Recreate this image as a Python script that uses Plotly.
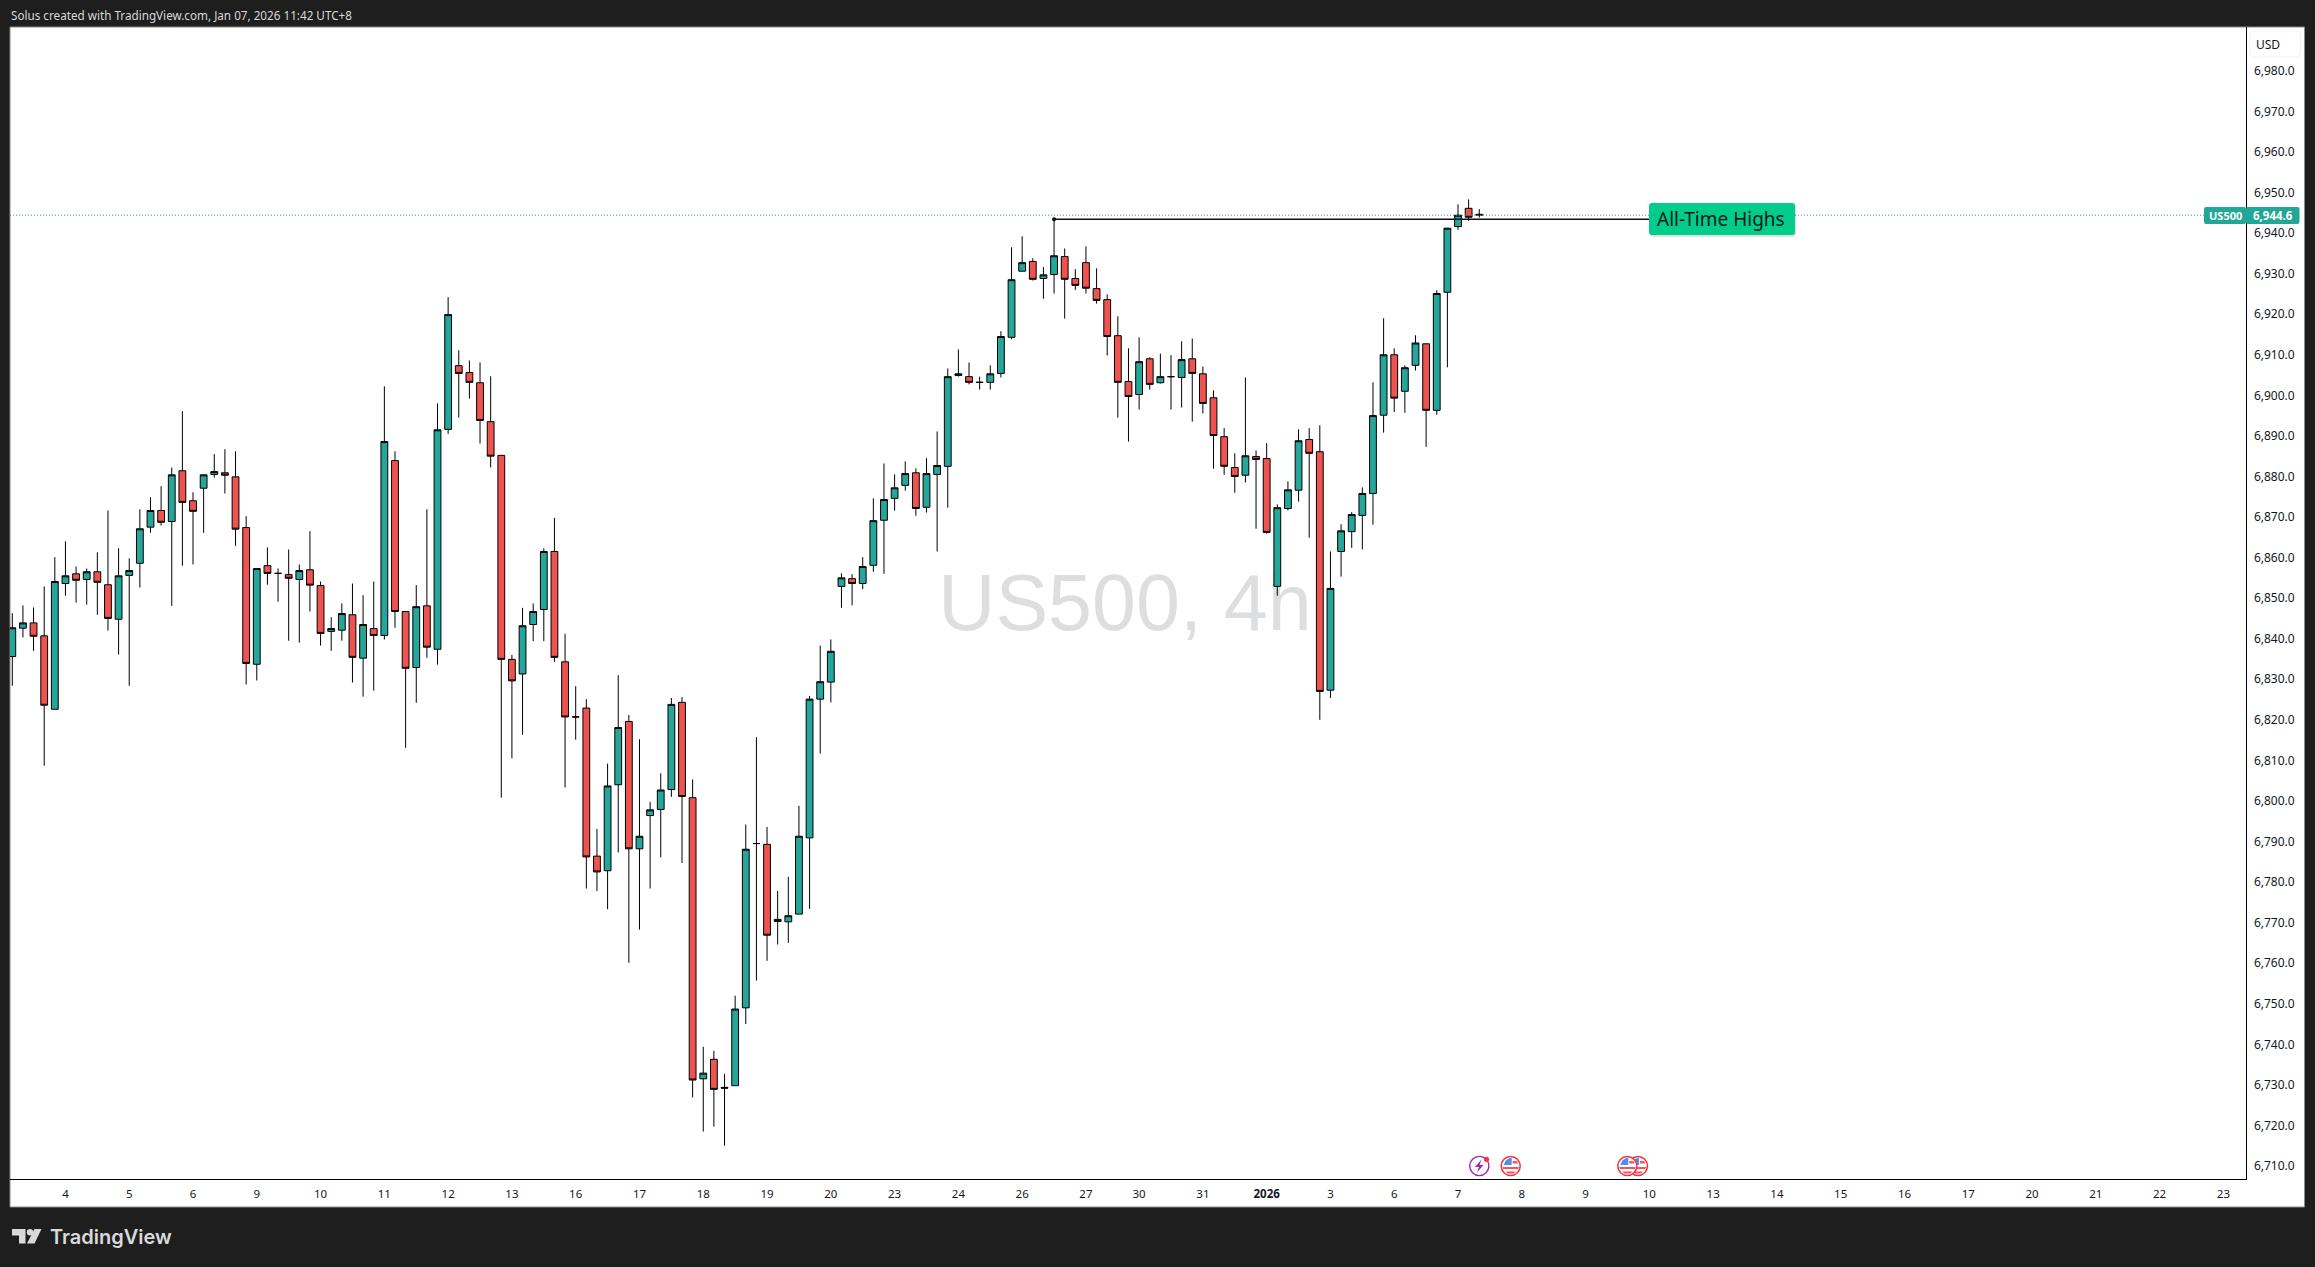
import plotly.graph_objects as go

W, H = 2315, 1267

opens = [
    6835.6, 6842.6, 6843.9, 6840.7, 6822.6, 6853.6, 6856.0, 6854.6, 6856.5, 6853.3,
    6844.8, 6855.6, 6858.6, 6867.5, 6871.6, 6868.9, 6881.4, 6874.0, 6877.1, 6880.5,
    6880.9, 6879.9, 6867.4, 6833.7, 6858.0, 6856.1, 6855.8, 6854.6, 6857.0, 6853.1,
    6841.8, 6842.1, 6845.9, 6835.2, 6842.5, 6840.8, 6883.9, 6846.7, 6832.9, 6848.1,
    6837.4, 6891.6, 6907.3, 6905.6, 6903.1, 6893.5, 6885.2, 6834.9, 6831.3, 6843.5,
    6847.2, 6861.5, 6834.3, 6820.7, 6822.9, 6786.4, 6782.8, 6804.0, 6819.6, 6788.2,
    6796.4, 6797.9, 6802.8, 6824.3, 6800.8, 6731.5, 6736.3, 6729.4, 6729.8, 6749.0,
    6789.5, 6789.3, 6770.3, 6770.2, 6772.1, 6790.9, 6825.1, 6829.3, 6852.9, 6854.8,
    6853.6, 6858.1, 6869.2, 6874.6, 6877.8, 6880.9, 6872.4, 6880.5, 6882.5, 6904.9,
    6904.6, 6903.2, 6903.2, 6905.4, 6914.3, 6930.6, 6933.0, 6928.8, 6929.8, 6934.2,
    6928.8, 6932.7, 6926.3, 6923.6, 6914.7, 6903.4, 6900.2, 6909.0, 6903.1, 6904.6,
    6904.4, 6909.0, 6905.3, 6899.4, 6889.8, 6882.2, 6880.3, 6884.9, 6884.4, 6852.9,
    6872.1, 6876.6, 6889.1, 6886.1, 6827.3, 6861.5, 6866.4, 6870.4, 6875.8, 6895.1,
    6910.0, 6901.0, 6907.4, 6912.7, 6896.3, 6925.4, 6941.6, 6946.1, 6944.4,
]
highs = [
    6846.3, 6848.2, 6847.7, 6852.9, 6860.1, 6864.0, 6857.8, 6857.3, 6861.3, 6871.6,
    6862.3, 6859.8, 6871.9, 6874.9, 6877.6, 6882.2, 6896.1, 6876.1, 6880.4, 6885.5,
    6886.7, 6886.2, 6870.2, 6857.3, 6862.5, 6857.3, 6862.0, 6858.3, 6866.5, 6854.1,
    6845.3, 6848.7, 6853.6, 6850.7, 6854.1, 6902.2, 6886.2, 6846.7, 6853.2, 6871.9,
    6898.0, 6924.2, 6911.1, 6908.6, 6908.1, 6904.7, 6885.2, 6836.0, 6847.6, 6848.7,
    6862.3, 6869.8, 6841.2, 6828.3, 6825.1, 6793.1, 6809.2, 6831.0, 6821.2, 6815.2,
    6799.8, 6806.8, 6825.4, 6825.6, 6805.3, 6739.4, 6738.4, 6732.7, 6752.0, 6794.2,
    6815.7, 6793.6, 6777.8, 6781.3, 6798.8, 6825.9, 6838.3, 6839.8, 6856.1, 6855.9,
    6860.1, 6874.6, 6883.2, 6880.5, 6883.7, 6882.0, 6884.5, 6891.1, 6906.6, 6911.3,
    6908.1, 6904.6, 6907.4, 6915.8, 6936.5, 6939.2, 6933.8, 6931.6, 6943.5, 6936.2,
    6931.1, 6936.7, 6931.3, 6924.9, 6919.5, 6911.6, 6914.3, 6909.4, 6910.3, 6909.9,
    6913.3, 6914.0, 6907.1, 6901.2, 6891.9, 6885.7, 6904.4, 6886.4, 6888.2, 6873.1,
    6878.8, 6891.6, 6891.9, 6892.6, 6861.5, 6868.2, 6871.2, 6877.3, 6903.2, 6919.0,
    6911.6, 6907.4, 6914.8, 6912.7, 6925.9, 6941.3, 6947.1, 6948.3, 6945.9,
]
lows = [
    6828.4, 6840.3, 6837.0, 6808.7, 6822.6, 6850.6, 6848.9, 6848.4, 6845.9, 6842.0,
    6836.1, 6828.4, 6852.6, 6866.1, 6867.9, 6848.1, 6858.0, 6858.3, 6866.1, 6879.7,
    6875.8, 6862.9, 6828.7, 6829.7, 6853.3, 6849.1, 6839.5, 6839.0, 6846.7, 6838.3,
    6837.0, 6839.5, 6829.2, 6825.7, 6827.2, 6839.8, 6842.7, 6813.1, 6824.2, 6835.3,
    6833.6, 6890.5, 6894.5, 6899.2, 6888.1, 6882.2, 6800.8, 6810.5, 6816.3, 6839.4,
    6839.4, 6834.3, 6803.3, 6815.1, 6778.4, 6777.8, 6773.3, 6787.3, 6760.1, 6768.3,
    6778.4, 6786.1, 6801.0, 6784.7, 6726.9, 6718.5, 6719.7, 6715.0, 6729.8, 6745.0,
    6755.7, 6760.6, 6764.6, 6765.0, 6772.1, 6773.4, 6811.7, 6824.3, 6847.6, 6848.2,
    6852.2, 6856.5, 6856.0, 6871.6, 6876.5, 6870.3, 6871.1, 6861.5, 6872.3, 6904.6,
    6902.7, 6901.4, 6901.4, 6904.4, 6913.8, 6930.6, 6928.3, 6923.8, 6925.1, 6918.9,
    6926.0, 6925.1, 6922.6, 6909.8, 6894.5, 6888.6, 6896.5, 6901.4, 6902.9, 6896.5,
    6897.0, 6893.5, 6895.5, 6881.9, 6880.4, 6876.0, 6878.5, 6867.1, 6865.9, 6850.6,
    6871.6, 6873.8, 6864.9, 6820.0, 6825.4, 6855.3, 6862.4, 6862.0, 6868.1, 6890.8,
    6895.9, 6895.7, 6906.1, 6887.3, 6895.2, 6906.9, 6940.8, 6943.0, 6943.8,
]
closes = [
    6842.7, 6843.9, 6840.6, 6823.6, 6854.1, 6855.5, 6854.4, 6856.5, 6853.9, 6845.0,
    6855.5, 6856.8, 6867.1, 6871.6, 6868.7, 6880.4, 6873.6, 6871.4, 6880.4, 6881.2,
    6880.3, 6867.0, 6833.9, 6857.3, 6856.1, 6856.1, 6854.9, 6856.8, 6853.2, 6841.3,
    6842.5, 6846.2, 6835.4, 6843.5, 6840.8, 6888.6, 6846.7, 6832.7, 6847.9, 6837.9,
    6891.5, 6919.9, 6905.4, 6903.2, 6893.8, 6885.0, 6834.9, 6829.6, 6843.2, 6846.7,
    6861.5, 6835.4, 6820.7, 6820.7, 6786.2, 6782.5, 6803.7, 6818.1, 6788.2, 6791.3,
    6797.8, 6802.7, 6823.8, 6801.1, 6731.2, 6732.9, 6728.9, 6729.2, 6748.7, 6788.1,
    6789.5, 6766.9, 6770.8, 6771.7, 6791.3, 6825.1, 6829.4, 6836.9, 6855.0, 6853.6,
    6857.8, 6869.1, 6874.3, 6877.2, 6880.7, 6872.1, 6880.7, 6882.7, 6904.6, 6905.3,
    6903.2, 6903.2, 6905.3, 6914.5, 6928.5, 6932.7, 6928.6, 6929.7, 6934.4, 6928.6,
    6927.1, 6926.4, 6923.4, 6914.5, 6903.2, 6899.7, 6908.3, 6902.7, 6904.6, 6904.6,
    6908.8, 6905.4, 6898.0, 6890.1, 6882.5, 6880.0, 6885.1, 6884.2, 6866.2, 6872.3,
    6876.7, 6888.8, 6885.7, 6827.0, 6852.4, 6866.6, 6870.6, 6875.8, 6895.0, 6910.0,
    6899.3, 6906.8, 6912.9, 6896.3, 6925.1, 6941.2, 6944.4, 6943.9, 6944.6,
]

day_labels = ['4', '5', '6', '9', '10', '11', '12', '13', '16', '17', '18', '19', '20', '23', '24', '26', '27',
              '30', '31', '<b>2026</b>', '3', '6', '7', '8', '9', '10', '13', '14', '15', '16', '17', '20', '21', '22', '23']
day_bars = [5, 11, 17, 23, 29, 35, 41, 47, 53, 59, 65, 71, 77, 83, 89, 95, 101,
            106, 112, 118, 124, 130, 136, 142, 148, 154, 160, 166, 172, 178, 184, 190, 196, 202, 208]
price_ticks = list(range(6710, 6990, 10))

last_price = 6944.4
ath_price = 6943.4
ath_start, ath_end = 98, 154

FONT = 'Noto Sans'
GREEN, RED, TEAL = '#26a69a', '#ef5350', '#22a696'
DARK = '#1e1e1e'


def px(x):
    return x / W


def py(y):
    return 1 - y / H


def rect(x0, y0, x1, y1, fill, line=None, layer='above', **kw):
    return dict(type='rect', xref='paper', yref='paper', x0=px(x0), x1=px(x1), y0=py(y0), y1=py(y1),
                fillcolor=fill, line=dict(color=line or fill, width=1 if line else 0), layer=layer, **kw)


def circle(cx, cy, r, fill, line=None, width=1.5):
    return dict(type='circle', xref='paper', yref='paper', x0=px(cx - r), x1=px(cx + r), y0=py(cy - r), y1=py(cy + r),
                fillcolor=fill, line=dict(color=line or fill, width=width if line else 0))


def poly(points, fill):
    d = 'M' + ' L'.join(f'{px(a):.6f},{py(b):.6f}' for a, b in points) + ' Z'
    return dict(type='path', xref='paper', yref='paper', path=d, fillcolor=fill, line=dict(width=0))


def rounded(x0, y0, x1, y1, r, fill, line=None):
    pts = (f'M{px(x0 + r)},{py(y0)} L{px(x1 - r)},{py(y0)} Q{px(x1)},{py(y0)} {px(x1)},{py(y0 + r)} '
           f'L{px(x1)},{py(y1 - r)} Q{px(x1)},{py(y1)} {px(x1 - r)},{py(y1)} '
           f'L{px(x0 + r)},{py(y1)} Q{px(x0)},{py(y1)} {px(x0)},{py(y1 - r)} '
           f'L{px(x0)},{py(y0 + r)} Q{px(x0)},{py(y0)} {px(x0 + r)},{py(y0)} Z')
    return dict(type='path', xref='paper', yref='paper', path=pts, fillcolor=fill,
                line=dict(color=line or fill, width=1 if line else 0))


def flag(cx, cy):
    r = 8.5
    out = [circle(cx, cy, r + 1, '#ffffff', '#f23645', 1.6)]
    out.append(poly([(cx - 7, cy - 1), (cx - 5, cy - 5.5), (cx - 1, cy - 8), (cx + 1, cy - 8), (cx + 1, cy - 1)], '#4d8ff0'))
    out.append(poly([(cx + 2, cy - 5), (cx + 6, cy - 5), (cx + 7.5, cy - 2.5), (cx + 2, cy - 2.5)], '#f7525f'))
    out.append(poly([(cx - 8, cy + 1), (cx + 8, cy + 1), (cx + 7.5, cy + 3), (cx - 7.5, cy + 3)], '#f7525f'))
    out.append(poly([(cx - 5, cy + 5.5), (cx + 5, cy + 5.5), (cx + 3, cy + 7.5), (cx - 3, cy + 7.5)], '#f7525f'))
    return out


fig = go.Figure()
fig.add_trace(go.Candlestick(
    x=list(range(len(opens))), open=opens, high=highs, low=lows, close=closes,
    increasing=dict(line=dict(color='#000000', width=1), fillcolor=GREEN),
    decreasing=dict(line=dict(color='#000000', width=1), fillcolor=RED),
    whiskerwidth=0, hoverinfo='skip',
))
fig.add_trace(go.Scatter(x=[ath_start], y=[ath_price], mode='markers', hoverinfo='skip',
                         marker=dict(color='#111111', size=4, symbol='circle')))

shapes = [
    # white panes outside the plot area
    rect(10, 27, 2304.5, 1207, '#ffffff', '#8a8a8a', layer='below'),
    # watermark sits under the candles
    dict(type='rect', xref='paper', yref='paper', x0=px(900), x1=px(1350), y0=py(543), y1=py(648), layer='below',
         line=dict(width=0), fillcolor='rgba(0,0,0,0)',
         label=dict(text='US500, 4h', textposition='middle center',
                    font=dict(family='Liberation Sans', size=79, color='#dddee0'))),
    # last price dotted line
    dict(type='line', xref='paper', yref='y', x0=px(10), x1=px(2204), y0=last_price, y1=last_price,
         line=dict(color=TEAL, width=1, dash='1px,2px')),
    # all-time-high line
    dict(type='line', xref='x', yref='y', x0=ath_start, x1=ath_end, y0=ath_price, y1=ath_price,
         line=dict(color='#111111', width=1.5)),
    rounded(1650, 205, 1796, 237, 3, 'rgba(0,0,0,0.12)'),
    rounded(1649, 203, 1795, 235, 3, '#00cc8b'),
    # USD box
    rounded(2249.5, 31, 2300.5, 57, 4, '#ffffff', '#f0f3fa'),
    # last price tags
    rounded(2204, 207, 2246, 224, 2, TEAL),
    rounded(2246, 207, 2299.5, 224, 2, TEAL),
    # TradingView logo
    poly([(12, 1229), (25.5, 1229), (25.5, 1243.5), (19, 1243.5), (19, 1235.5), (12, 1235.5)], '#d9d9d9'),
    circle(30, 1232.2, 3.2, '#d9d9d9'),
    poly([(34.5, 1229), (41.5, 1229), (34.5, 1243.5), (27, 1243.5)], '#d9d9d9'),
    # session event badges
    circle(1479.3, 1166, 9.6, '#ffffff', '#9c27b0', 1.4),
    poly([(1481.5, 1159.5), (1475, 1167), (1479, 1167), (1477, 1172.5), (1483.5, 1165), (1479.5, 1165)], '#9c27b0'),
    circle(1486.5, 1159.3, 2.6, '#f23645'),
]
shapes += flag(1510.7, 1166) + flag(1638, 1166) + flag(1627.3, 1166)

annotations = [
    dict(text='Solus created with TradingView.com, Jan 07, 2026 11:42 UTC+8', xref='paper', yref='paper',
         x=px(9), y=py(14.5), xanchor='left', yanchor='middle', showarrow=False,
         font=dict(family=FONT, size=11.7, color='#d8d8d8')),
    dict(text='TradingView', xref='paper', yref='paper', x=px(48), y=py(1237), xanchor='left', yanchor='middle',
         showarrow=False, font=dict(family='Inter', size=20, color='#d9d9d9', weight=600)),
    dict(text='All-Time Highs', xref='paper', yref='paper', x=px(1721), y=py(218.5), xanchor='center', yanchor='middle',
         showarrow=False, font=dict(family=FONT, size=19, color='#0b1a14')),
    dict(text='USD', xref='paper', yref='paper', x=px(2268), y=py(44.5), xanchor='center', yanchor='middle',
         showarrow=False, font=dict(family=FONT, size=12, color='#131722')),
    dict(text='<b>US500</b>', xref='paper', yref='paper', x=px(2225), y=py(215.5), xanchor='center', yanchor='middle',
         showarrow=False, font=dict(family=FONT, size=11, color='#ffffff')),
    dict(text='<b>6,944.6</b>', xref='paper', yref='paper', x=px(2273), y=py(215.5), xanchor='center', yanchor='middle',
         showarrow=False, font=dict(family=FONT, size=11.5, color='#ffffff')),
]

fig.update_layout(
    width=W, height=H, autosize=False, margin=dict(l=0, r=0, t=0, b=0, pad=0),
    paper_bgcolor=DARK, plot_bgcolor='rgba(0,0,0,0)', showlegend=False,
    boxgap=0.36, boxgroupgap=0, shapes=shapes, annotations=annotations,
    font=dict(family=FONT, color='#131722', size=11),
    xaxis=dict(domain=[px(10), px(2245.5)], range=[-0.216, 210.08], rangeslider=dict(visible=False),
               tickmode='array', tickvals=day_bars, ticktext=day_labels, showgrid=False, zeroline=False,
               showline=True, linecolor='#000000', linewidth=1, ticks='', ticklabelstandoff=4,
               tickfont=dict(family=FONT, size=11.5, color='#131722'), anchor='y', tickangle=0),
    yaxis=dict(domain=[py(1179), py(27)], range=[6706.8, 6990.8], side='right', tickmode='array',
               tickvals=price_ticks, tickformat=',.1f', showgrid=False, zeroline=False,
               showline=True, linecolor='#000000', linewidth=1, ticks='', ticklabelstandoff=5,
               tickfont=dict(family=FONT, size=12, color='#131722'), anchor='x'),
)

fig.write_html('out.html', config=dict(displayModeBar=False),
               post_script="document.body.style.margin='0';")
